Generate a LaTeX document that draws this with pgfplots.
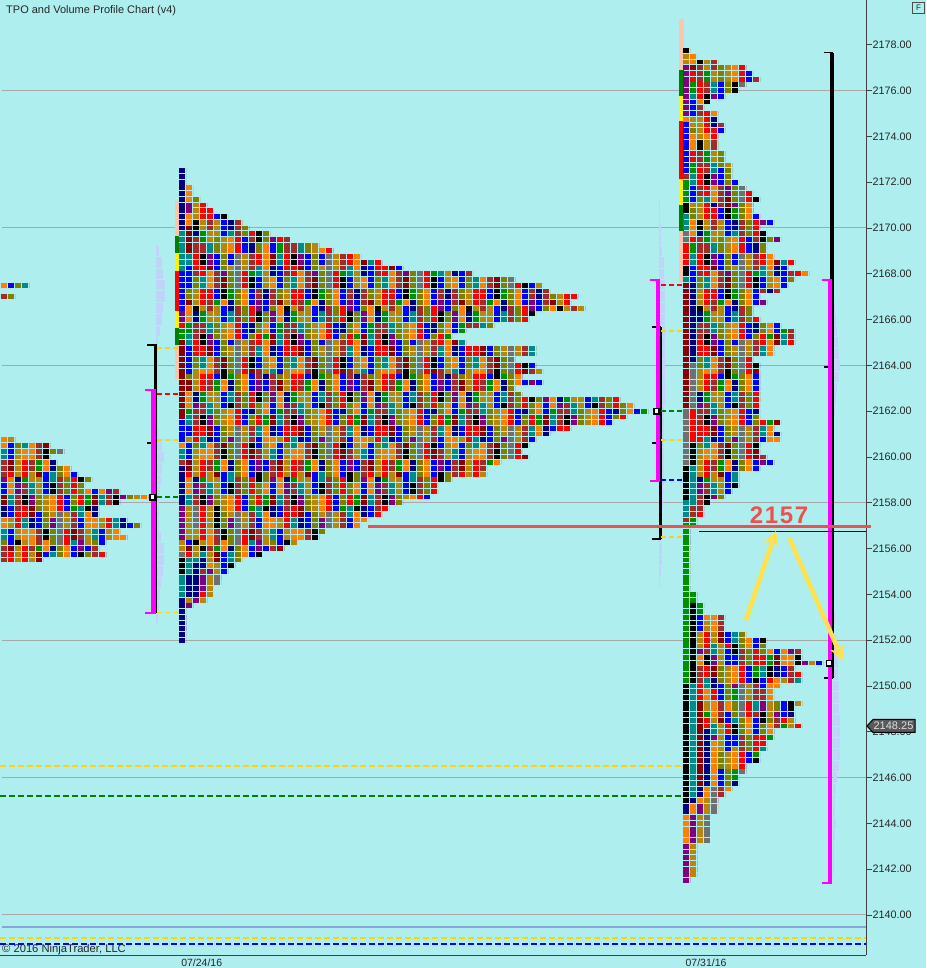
\documentclass[border=0pt]{standalone}
\usepackage{pgfplots}
\pgfplotsset{compat=1.18}
\usepackage{pgfplotstable}
\usepackage{fontspec}
\setmainfont{Liberation Sans}
\usetikzlibrary{arrows.meta}
\definecolor{bgc}{HTML}{AFEEEE}
\definecolor{pal0}{HTML}{000080}
\definecolor{pal1}{HTML}{0000FF}
\definecolor{pal2}{HTML}{A52A2A}
\definecolor{pal3}{HTML}{FF0000}
\definecolor{pal4}{HTML}{8B0000}
\definecolor{pal5}{HTML}{FF8000}
\definecolor{pal6}{HTML}{800080}
\definecolor{pal7}{HTML}{B8860B}
\definecolor{pal8}{HTML}{707070}
\definecolor{pal9}{HTML}{808000}
\definecolor{pal10}{HTML}{009000}
\definecolor{pal11}{HTML}{008B8B}
\definecolor{pal12}{HTML}{000000}
\colorlet{nv}{pal0}\colorlet{bl}{pal1}\colorlet{br}{pal2}\colorlet{rd}{pal3}\colorlet{dr}{pal4}
\colorlet{og}{pal5}\colorlet{pu}{pal6}\colorlet{gd}{pal7}\colorlet{gy}{pal8}\colorlet{ol}{pal9}
\colorlet{gn}{pal10}\colorlet{te}{pal11}\colorlet{bk}{pal12}
\definecolor{volc}{HTML}{C0D4FA}
\definecolor{mag}{HTML}{FF00FF}
\definecolor{ylw}{HTML}{FFD400}
\definecolor{gridc}{HTML}{A8A8A8}
\definecolor{salm}{HTML}{FFC4AC}
\definecolor{redl}{HTML}{EE5050}
\definecolor{arrowy}{HTML}{FFE14D}
\pgfplotstableread[row sep=\\]{x y w\\
179 2172.5 1\\179 2172.25 1\\179 2172 1\\179 2171.75 2\\179 2171.5 2\\179 2171.25 3\\179 2171 4\\179 2170.75 5\\
179 2170.5 7\\179 2170.25 9\\179 2170 10\\179 2169.75 13\\179 2169.5 16\\179 2169.25 20\\179 2169 22\\179 2168.75 26\\
179 2168.5 29\\179 2168.25 32\\179 2168 42\\179 2167.75 48\\179 2167.5 52\\179 2167.25 53\\179 2167 57\\179 2166.75 56\\
179 2166.5 58\\179 2166.25 51\\179 2166 50\\179 2165.75 45\\179 2165.5 41\\179 2165.25 39\\179 2165 41\\179 2164.75 51\\
179 2164.5 51\\179 2164.25 48\\179 2164 51\\179 2163.75 52\\179 2163.5 49\\179 2163.25 52\\179 2163 48\\179 2162.75 49\\
179 2162.5 63\\179 2162.25 65\\179 2162 67\\179 2161.75 64\\179 2161.5 62\\179 2161.25 56\\179 2161 53\\179 2160.75 51\\
179 2160.5 50\\179 2160.25 49\\179 2160 50\\179 2159.75 46\\179 2159.5 44\\179 2159.25 44\\179 2159 39\\179 2158.75 37\\
179 2158.5 37\\179 2158.25 36\\179 2158 32\\179 2157.75 30\\179 2157.5 29\\179 2157.25 27\\179 2157 26\\179 2156.75 21\\
179 2156.5 20\\179 2156.25 17\\179 2156 15\\179 2155.75 12\\179 2155.5 9\\179 2155.25 8\\179 2155 7\\179 2154.75 6\\
179 2154.5 6\\179 2154.25 5\\179 2154 5\\179 2153.75 4\\179 2153.5 2\\179 2153.25 1\\179 2153 1\\179 2152.75 1\\
179 2152.5 1\\179 2152.25 1\\179 2152 1\\
0.5 2167.5 4\\0.5 2167 2\\
0.5 2160.75 2\\0.5 2160.5 7\\0.5 2160.25 9\\0.5 2160 7\\0.5 2159.75 8\\0.5 2159.5 10\\0.5 2159.25 11\\0.5 2159 13\\
0.5 2158.75 12\\0.5 2158.5 17\\0.5 2158.25 21\\0.5 2158 17\\0.5 2157.75 14\\0.5 2157.5 14\\0.5 2157.25 18\\0.5 2157 20\\
0.5 2156.75 17\\0.5 2156.5 18\\0.5 2156.25 15\\0.5 2156 14\\0.5 2155.75 15\\0.5 2155.5 6\\
683 2177.75 1\\683 2177.5 2\\683 2177.25 5\\683 2177 9\\683 2176.75 10\\683 2176.5 11\\683 2176.25 9\\683 2176 8\\
683 2175.75 6\\683 2175.5 4\\683 2175.25 3\\683 2175 5\\683 2174.75 5\\683 2174.5 6\\683 2174.25 6\\683 2174 5\\
683 2173.75 5\\683 2173.5 5\\683 2173.25 6\\683 2173 6\\683 2172.75 7\\683 2172.5 7\\683 2172.25 7\\683 2172 8\\
683 2171.75 9\\683 2171.5 10\\683 2171.25 11\\683 2171 10\\683 2170.75 10\\683 2170.5 11\\683 2170.25 13\\683 2170 11\\
683 2169.75 12\\683 2169.5 14\\683 2169.25 12\\683 2169 12\\683 2168.75 13\\683 2168.5 16\\683 2168.25 15\\683 2168 18\\
683 2167.75 16\\683 2167.5 15\\683 2167.25 14\\683 2167 11\\683 2166.75 12\\683 2166.5 10\\683 2166.25 10\\683 2166 11\\
683 2165.75 14\\683 2165.5 16\\683 2165.25 16\\683 2165 16\\683 2164.75 13\\683 2164.5 13\\683 2164.25 10\\683 2164 11\\
683 2163.75 11\\683 2163.5 11\\683 2163.25 11\\683 2163 11\\683 2162.75 11\\683 2162.5 11\\683 2162.25 11\\683 2162 11\\
683 2161.75 11\\683 2161.5 14\\683 2161.25 13\\683 2161 14\\683 2160.75 14\\683 2160.5 11\\683 2160.25 11\\683 2160 12\\
683 2159.75 13\\683 2159.5 11\\683 2159.25 8\\683 2159 8\\683 2158.75 8\\683 2158.5 7\\683 2158.25 6\\683 2158 4\\
683 2157.75 3\\683 2157.5 3\\683 2157.25 2\\683 2157 2\\683 2156.75 1\\683 2156.5 1\\683 2156.25 1\\683 2156 1\\
683 2155.75 1\\683 2155.5 1\\683 2155.25 1\\683 2155 1\\683 2154.75 1\\683 2154.5 1\\683 2154.25 1\\683 2154 2\\
683 2153.75 2\\683 2153.5 3\\683 2153.25 3\\683 2153 6\\683 2152.75 6\\683 2152.5 6\\683 2152.25 9\\683 2152 12\\
683 2151.75 12\\683 2151.5 17\\683 2151.25 17\\683 2151 20\\683 2150.75 16\\683 2150.5 17\\683 2150.25 17\\683 2150 14\\
683 2149.75 13\\683 2149.5 13\\683 2149.25 17\\683 2149 16\\683 2148.75 16\\683 2148.5 16\\683 2148.25 17\\683 2148 13\\
683 2147.75 13\\683 2147.5 12\\683 2147.25 12\\683 2147 11\\683 2146.75 11\\683 2146.5 9\\683 2146.25 9\\683 2146 8\\
683 2145.75 8\\683 2145.5 7\\683 2145.25 6\\683 2145 5\\683 2144.75 5\\683 2144.5 5\\683 2144.25 4\\683 2144 4\\
683 2143.75 4\\683 2143.5 4\\683 2143.25 4\\683 2143 2\\683 2142.75 2\\683 2142.5 2\\683 2142.25 2\\683 2142 2\\
683 2141.75 2\\683 2141.5 1\\
}\prof
\pgfplotstableread[row sep=\\]{x y w\\
156 2169 3\\156 2168.5 6\\156 2168 7\\156 2167.5 9\\156 2167 9\\156 2166.5 7\\156 2166 6\\156 2165.5 4\\156 2165 2\\
156 2164.5 2\\156 2164 2\\156 2163.5 2\\156 2163 2\\156 2162.5 2\\156 2162 2\\156 2161.5 2\\156 2161 3\\156 2160.5 6\\
156 2160 8\\156 2159.5 6\\156 2159 5\\156 2158.5 4\\156 2158 3\\156 2157.5 3\\156 2157 3\\156 2156.5 5\\156 2156 8\\
156 2155.5 8\\156 2155 7\\156 2154.5 5\\156 2154 4\\156 2153.5 3\\156 2153 2\\
659 2171 1\\659 2170.5 1\\659 2170 2\\659 2169.5 2\\659 2169 3\\659 2168.5 5\\659 2168 5\\659 2167.5 6\\659 2167 6\\
659 2166.5 6\\659 2166 6\\659 2165.5 6\\659 2165 6\\659 2164.5 6\\659 2164 6\\659 2163.5 6\\659 2163 6\\659 2162.5 6\\
659 2162 5\\659 2161.5 5\\659 2161 5\\659 2160.5 5\\659 2160 5\\659 2159.5 5\\659 2159 5\\659 2158.5 4\\659 2158 4\\
659 2157.5 3\\659 2157 3\\659 2156.5 3\\659 2156 3\\659 2155.5 3\\659 2155 2\\659 2154.5 1\\
833 2166.5 2\\833 2166 3\\833 2165.5 4\\833 2165 5\\833 2164.5 6\\833 2164 7\\833 2163.5 6\\833 2163 4\\833 2162.5 3\\
833 2162 2\\833 2161.5 1\\833 2157.5 1\\833 2155 1\\833 2153 2\\833 2152 3\\833 2151.5 4\\833 2151 5\\833 2150.5 5\\
833 2150 6\\833 2149.5 6\\833 2149 6\\833 2148.5 7\\833 2148 7\\833 2147.5 7\\833 2147 7\\833 2146.5 6\\833 2146 4\\
833 2145.5 3\\833 2145 2\\833 2144.5 2\\833 2144 3\\833 2143.5 2\\833 2143 1\\833 2142.5 1\\833 2142 1\\
}\vol
% one column run of cells of a single colour: column centre x, top price, bottom price, colour
\newcommand{\vrun}[4]{%
  \pgfmathsetmacro\ra{#2+0.107}\pgfmathsetmacro\rb{#3-0.107}%
  \edef\tmp{\noexpand\addplot[forget plot,line width=6pt,color=#4,dash pattern=on 4.9pt off .825pt] coordinates {(#1,\ra)(#1,\rb)};}\tmp}
\newcommand{\seg}[5]{\addplot[forget plot,line width=#1,color=#2] coordinates {(#3,#4)(#3,#5)};}
\newcommand{\hseg}[5]{\addplot[forget plot,line width=#1,color=#2] coordinates {(#3,#5)(#4,#5)};}
\newcommand{\dashm}[4]{\addplot[forget plot,line width=1.5pt,color=#1,dash pattern=on 5pt off 3pt] coordinates {(#2,#4)(#3,#4)};}
% rows of the profile, gathered in groups as (x0,y)(x1,y)(x1,nan)
\pgfplotsforeachungrouped \c in {0,...,6}{\expandafter\gdef\csname clsA\c\endcsname{}}
\pgfplotsforeachungrouped \c in {0,...,4}{\expandafter\gdef\csname clsB\c\endcsname{}}
\pgfplotstablegetrowsof{\prof}\pgfmathtruncatemacro\nr{\pgfplotsretval-1}
\pgfplotsforeachungrouped \r in {0,...,\nr}{%
  \pgfplotstablegetelem{\r}{x}\of\prof\let\xa\pgfplotsretval
  \pgfplotstablegetelem{\r}{y}\of\prof\let\ya\pgfplotsretval
  \pgfplotstablegetelem{\r}{w}\of\prof\let\wa\pgfplotsretval
  \pgfmathsetmacro\xe{\xa+7*\wa}%
  \pgfmathtruncatemacro\ca{mod(floor((\ya-2140)*2),7)}%
  \pgfmathtruncatemacro\cb{mod(floor((\ya-2140)*4/3+0.4),5)}%
  \expandafter\xdef\csname clsA\ca\endcsname{\csname clsA\ca\endcsname(\xa,\ya)(\xe,\ya)(\xe,nan)}%
  \expandafter\xdef\csname clsB\cb\endcsname{\csname clsB\cb\endcsname(\xa,\ya)(\xe,\ya)(\xe,nan)}%
}
\gdef\volrows{}
\pgfplotstablegetrowsof{\vol}\pgfmathtruncatemacro\nv{\pgfplotsretval-1}
\pgfplotsforeachungrouped \r in {0,...,\nv}{%
  \pgfplotstablegetelem{\r}{x}\of\vol\let\xa\pgfplotsretval
  \pgfplotstablegetelem{\r}{y}\of\vol\let\ya\pgfplotsretval
  \pgfplotstablegetelem{\r}{w}\of\vol\let\wa\pgfplotsretval
  \pgfmathsetmacro\xe{\xa+\wa}%
  \xdef\volrows{\volrows(\xa,\ya)(\xe,\ya)(\xe,nan)}%
}
\begin{document}
\begin{tikzpicture}[x=1pt,y=1pt]
\useasboundingbox (0,-13) rectangle (926,955);
\fill[bgc] (0,-13) rectangle (926,955);
\begin{axis}[
  at={(0pt,0pt)},anchor=origin,
  scale only axis,width=866pt,height=955pt,
  xmin=0,xmax=866,ymin=2138.253,ymax=2179.956,
  clip=false,unbounded coords=jump,
  axis x line*=bottom,axis y line*=right,
  axis line style={-,line width=1pt,color=black!75},
  ytick={2140,2142,...,2178},
  y tick label style={font=\fontsize{10.8}{13}\selectfont,color=black!85,xshift=-3pt,
    /pgf/number format/.cd,fixed,fixed zerofill,precision=2,1000 sep={},assume math mode=true},
  ytick style={color=black!75,line width=.8pt},
  major tick length=6pt,
  tick align=outside,
  xtick={201.7,706},xticklabels={07/24/16,07/31/16},
  x tick label style={font=\fontsize{10.5}{12}\selectfont,color=black!85,yshift=5.5pt},
  xtick style={draw=none},
]
% grid lines
\hseg{1pt}{gridc}{2}{866}{2140}
\hseg{1pt}{gridc}{2}{866}{2146}
\hseg{1pt}{gridc}{2}{866}{2152}
\hseg{1pt}{gridc}{2}{866}{2158}
\hseg{1pt}{gridc}{2}{866}{2164}
\hseg{1pt}{gridc}{2}{866}{2170}
\hseg{1pt}{gridc}{2}{866}{2176}
\addplot[forget plot,line width=1.2pt,color=cyan!30!blue!30!bgc] coordinates {(2,2139.48)(866,2139.48)};
\addplot[forget plot,line width=1.4pt,color=ylw,dash pattern=on 6pt off 3pt] coordinates {(0,2139)(866,2139)};
\addplot[forget plot,line width=1.6pt,color=blue,dash pattern=on 6pt off 3pt] coordinates {(0,2138.73)(866,2138.73)};
\addplot[forget plot,line width=1.4pt,color=ylw,dash pattern=on 6pt off 3pt] coordinates {(0,2146.5)(683,2146.5)};
\addplot[forget plot,line width=1.4pt,color=green!50!black,dash pattern=on 6pt off 3pt] coordinates {(0,2145.2)(683,2145.2)};
% volume profiles
\edef\tmp{\noexpand\addplot[forget plot,line width=10.5pt,color=volc] coordinates {\volrows};}\tmp
% session range bars
\seg{4.5pt}{salm}{177}{2171.18}{2169.65}
\seg{4.5pt}{green!50!black}{177}{2169.65}{2168.91}
\seg{4.5pt}{yellow}{177}{2168.91}{2168.12}
\seg{4.5pt}{red}{177}{2168.12}{2166.38}
\seg{4.5pt}{yellow}{177}{2166.38}{2165.63}
\seg{4.5pt}{green!50!black}{177}{2165.63}{2164.89}
\seg{4.5pt}{salm}{177}{2164.89}{2163.36}
\seg{4.5pt}{salm}{681.5}{2179.13}{2176.9}
\seg{4.5pt}{green!50!black}{681.5}{2176.9}{2175.76}
\seg{4.5pt}{yellow}{681.5}{2175.76}{2174.67}
\seg{4.5pt}{red}{681.5}{2174.67}{2172.14}
\seg{4.5pt}{yellow}{681.5}{2172.14}{2171}
\seg{4.5pt}{green!50!black}{681.5}{2171}{2169.87}
\seg{4.5pt}{salm}{681.5}{2169.87}{2167.64}
% TPO cells, first layer
\pgfplotsforeachungrouped \k in {0,...,12}{%
 \pgfplotsforeachungrouped \c in {0,...,6}{%
  \pgfmathtruncatemacro\j{mod(\k*(\c+1)+\c*5,13)}%
  \pgfmathtruncatemacro\ph{91-7*\j}%
  \edef\tmp{\noexpand\addplot[forget plot,line width=4.8pt,color=pal\k,dash pattern=on 6pt off 85pt,dash phase=\ph pt]
    coordinates {\csname clsA\c\endcsname};}\tmp
 }}
% TPO cells, second layer breaking up the runs
\pgfplotsforeachungrouped \k in {1,2,3,5,7,9}{%
 \pgfplotsforeachungrouped \c in {0,...,4}{%
  \pgfmathtruncatemacro\j{mod(\k*(\c+2)+\c*3+4,13)}%
  \pgfmathtruncatemacro\ph{91-7*\j}%
  \edef\tmp{\noexpand\addplot[forget plot,line width=4.8pt,color=pal\k,dash pattern=on 6pt off 85pt,dash phase=\ph pt]
    coordinates {\csname clsB\c\endcsname};}\tmp
 }}
% column runs that the picture shows clearly: 31 July
\vrun{686}{2177.75}{2177.75}{bk}\vrun{686}{2177.5}{2177.25}{gd}\vrun{686}{2177}{2175}{pu}\vrun{686}{2174.75}{2174.75}{og}
\vrun{686}{2174.5}{2172.5}{bl}\vrun{686}{2172.25}{2172.25}{br}\vrun{686}{2172}{2171.25}{gn}\vrun{686}{2171}{2170.75}{bk}
\vrun{686}{2170.5}{2170}{te}\vrun{686}{2169.75}{2169.5}{gy}\vrun{686}{2169.25}{2168.5}{rd}\vrun{686}{2168.25}{2168}{bk}
\vrun{686}{2167.75}{2167.75}{te}\vrun{686}{2167.5}{2162.25}{dr}\vrun{686}{2162}{2159.75}{gy}\vrun{686}{2159.5}{2158.25}{bk}
\vrun{686}{2158}{2157.5}{te}\vrun{686}{2157.25}{2157.25}{br}\vrun{686}{2157}{2150.25}{gn}\vrun{686}{2150}{2145}{bk}
\vrun{686}{2144.75}{2144.5}{nv}\vrun{686}{2144.25}{2143.25}{og}\vrun{686}{2143}{2141.5}{pu}
\vrun{693}{2167.5}{2164.25}{nv}\vrun{693}{2164}{2162.25}{gy}\vrun{693}{2162}{2160.75}{rd}\vrun{693}{2160.5}{2159.75}{bk}
\vrun{693}{2159.5}{2158.25}{te}\vrun{693}{2157.75}{2157.5}{br}\vrun{693}{2157.25}{2157}{gn}
\vrun{693}{2154}{2153.75}{gn}\vrun{693}{2153.5}{2150.25}{bk}\vrun{693}{2150}{2145.25}{te}\vrun{693}{2145}{2145}{nv}
\vrun{693}{2144.75}{2144.5}{og}\vrun{693}{2144.25}{2143.25}{pu}\vrun{693}{2143}{2141.75}{gd}
\vrun{700}{2153.5}{2153.25}{gn}\vrun{700}{2153}{2152.5}{bl}\vrun{700}{2149.25}{2145.75}{dr}\vrun{700}{2145.5}{2145.25}{nv}
\vrun{700}{2145}{2145}{og}\vrun{700}{2144.75}{2144.5}{pu}\vrun{700}{2144.25}{2143.25}{gd}
\vrun{707}{2148}{2145.75}{nv}\vrun{707}{2145.5}{2145.25}{og}\vrun{707}{2145}{2144.5}{gd}\vrun{707}{2144.25}{2143.25}{gy}
\vrun{714}{2147.5}{2145.75}{og}\vrun{714}{2145.5}{2144.5}{gy}
% column runs: 24 July
\vrun{182}{2172.5}{2170}{nv}\vrun{182}{2169.75}{2168.25}{te}\vrun{182}{2168}{2166.5}{bl}\vrun{182}{2166.25}{2166}{pu}
\vrun{182}{2165.75}{2165.75}{rd}\vrun{182}{2165.5}{2165.25}{gn}\vrun{182}{2165}{2161.75}{dr}\vrun{182}{2161.5}{2160.75}{bl}
\vrun{182}{2160.5}{2160.5}{og}\vrun{182}{2159.5}{2158}{nv}\vrun{182}{2157.75}{2156.5}{pu}\vrun{182}{2156.25}{2156}{gd}
\vrun{182}{2155.75}{2155.75}{gy}\vrun{182}{2155.5}{2155}{bk}\vrun{182}{2154.75}{2154}{te}\vrun{182}{2153.75}{2152}{nv}
\vrun{189}{2171.75}{2171.25}{og}\vrun{189}{2171}{2170.75}{pu}\vrun{189}{2170.5}{2170.25}{og}\vrun{189}{2170}{2169}{dr}
\vrun{189}{2157.75}{2156.5}{gd}\vrun{189}{2155.5}{2155}{te}\vrun{189}{2154.75}{2154}{nv}\vrun{189}{2153.5}{2153.5}{pu}
\vrun{196}{2157.75}{2157}{gy}\vrun{196}{2155.5}{2155.5}{te}\vrun{196}{2155.25}{2154}{nv}\vrun{196}{2153.75}{2153.75}{pu}
\vrun{203}{2157.75}{2156.5}{rd}\vrun{203}{2156}{2156}{bk}\vrun{203}{2155.75}{2155.75}{te}\vrun{203}{2155.5}{2155.25}{nv}\vrun{203}{2154.75}{2154.25}{pu}\vrun{203}{2153.75}{2153.75}{gd}
\vrun{210}{2157.75}{2157}{gd}\vrun{210}{2155.25}{2155.25}{og}\vrun{210}{2155}{2155}{pu}\vrun{210}{2154.75}{2154}{gd}
\vrun{217}{2157.75}{2157}{bk}\vrun{217}{2154.75}{2154.5}{gy}
% 24 July value area brackets
\seg{3.3pt}{black}{155.2}{2164.89}{2153.19}
\hseg{2pt}{black}{147}{157}{2164.89}
\hseg{1.8pt}{black}{147}{155}{2160.62}
\seg{4.6pt}{mag}{153.5}{2162.93}{2153.17}
\hseg{2pt}{mag}{145}{156}{2162.93}
\hseg{2pt}{mag}{145}{156}{2153.17}
\dashm{ylw}{157}{178}{2164.75}
\dashm{red}{157}{178}{2162.75}
\dashm{ylw}{157}{178}{2160.75}
\dashm{green!50!black}{157}{178}{2158.25}
\dashm{ylw}{157}{178}{2153.2}
% 31 July value area brackets
\seg{3.3pt}{black}{660.2}{2165.66}{2156.41}
\hseg{1.8pt}{black}{652}{661}{2165.66}
\hseg{1.8pt}{black}{652}{660}{2160.6}
\hseg{1.8pt}{black}{652}{661}{2156.41}
\seg{4.4pt}{mag}{658}{2167.71}{2158.97}
\hseg{2pt}{mag}{650}{660}{2167.71}
\hseg{2pt}{mag}{650}{660}{2158.97}
\dashm{red}{661}{682}{2167.5}
\dashm{ylw}{661}{682}{2165.5}
\dashm{green!50!black}{661}{682}{2162}
\dashm{ylw}{661}{682}{2160.75}
\dashm{blue}{661}{682}{2159}
\dashm{ylw}{661}{682}{2156.5}
% right brackets
\seg{3.3pt}{black}{832}{2177.66}{2150.35}
\hseg{1.8pt}{black}{824}{833}{2177.66}
\hseg{1.8pt}{black}{824}{830}{2163.92}
\hseg{1.8pt}{black}{824}{833}{2150.35}
\seg{4.2pt}{mag}{829.9}{2167.71}{2141.41}
\hseg{2pt}{mag}{822}{832}{2167.71}
\hseg{2pt}{mag}{822}{832}{2141.41}
% point-of-control squares
\addplot[forget plot,only marks,mark=square*,mark size=2.6pt,mark options={draw=black,fill=white,line width=1.7pt}]
  coordinates {(152.5,2158.25)(656.5,2162)(829,2151)};
% level lines and arrows
\addplot[forget plot,line width=1pt,color=nv] coordinates {(699,2156.76)(866,2156.76)};
\addplot[forget plot,line width=3.4pt,color=redl] coordinates {(368,2156.97)(871,2156.97)};
\addplot[forget plot,line width=4.6pt,color=arrowy,-{Stealth[length=15pt,width=15pt]}] coordinates {(746,2152.88)(776,2156.77)};
\addplot[forget plot,line width=4.6pt,color=arrowy,-{Stealth[length=15pt,width=15pt]}] coordinates {(789.3,2156.46)(843,2151.11)};
\end{axis}
% texts placed in the picture
\node[anchor=west,inner sep=0pt,font=\fontsize{11}{13}\selectfont,color=black!85] at (6,944) {TPO and Volume Profile Chart (v4)};
\node[anchor=west,inner sep=0pt,font=\fontsize{11.2}{13}\selectfont,color=black!85] at (2,5) {© 2016 NinjaTrader, LLC};
\node[anchor=center,inner sep=0pt,font=\bfseries\fontsize{24}{26}\selectfont\addfontfeatures{LetterSpace=7},color=redl] at (779,439.5) {2157};
\draw[black!70,fill=bgc,line width=.6pt] (912.5,942) rectangle (924.5,953);
\node[inner sep=0pt,font=\fontsize{8}{9}\selectfont,color=black!85] at (918.5,947.5) {F};
\draw[black,fill=black!65,line width=1pt] (867,229) -- (873,235.5) -- (915,235.5) -- (915,222.5) -- (873,222.5) -- cycle;
\node[anchor=center,inner sep=0pt,font=\fontsize{11}{13}\selectfont,color=black!12] at (893.5,229) {2148.25};
\end{tikzpicture}
\end{document}
